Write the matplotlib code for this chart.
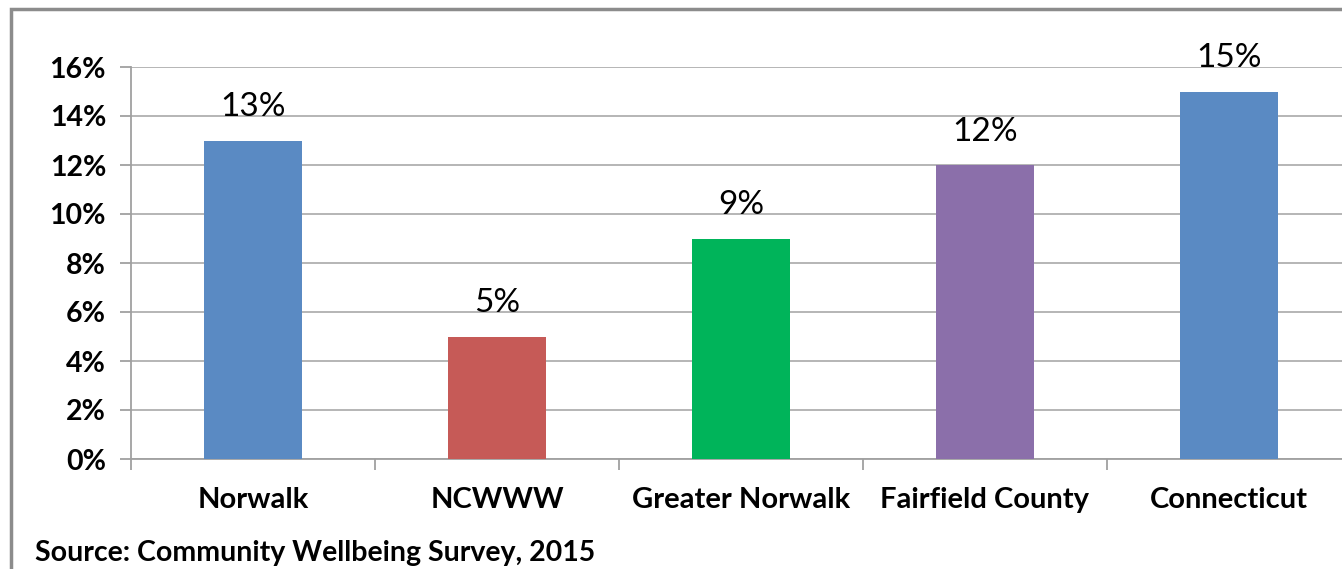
import matplotlib.pyplot as plt
from matplotlib.patches import Rectangle

# data
categories = ["Norwalk", "NCWWW", "Greater Norwalk", "Fairfield County", "Connecticut"]
values = [13, 5, 9, 12, 15]
bar_colors = ["#5A8AC3", "#C65A57", "#00B45A", "#8B6FAA", "#5A8AC3"]
yticks = [0, 2, 4, 6, 8, 10, 12, 14, 16]

plt.rcParams['font.family'] = ['Lato', 'DejaVu Sans']

W, H = 1342, 569
fig = plt.figure(figsize=(W / 100, H / 100), dpi=100)

# outer chart border (only top/left visible in the crop)
fig.patches.append(Rectangle((11 / W, -0.1), 1.2, 1 - 9 / H + 0.1, transform=fig.transFigure,
                             fill=False, edgecolor="#8c8c8c", linewidth=2.5))

x0, x1 = 131, 1351
ytop, ybot = 67, 459
ax = fig.add_axes([x0 / W, 1 - ybot / H, (x1 - x0) / W, (ybot - ytop) / H])

xs = list(range(len(categories)))
ax.bar(xs, values, width=0.4, color=bar_colors, zorder=3)

for x, v in zip(xs, values):
    ax.annotate(f"{v}%", (x, v), xytext=(0, 13), textcoords="offset points",
                ha="center", va="bottom", fontsize=24)

ax.set_xlim(-0.5, len(categories) - 0.5)
ax.set_ylim(0, 16)
ax.set_yticks(yticks)
ax.set_yticklabels([f"{t}%" for t in yticks], fontsize=20.5, fontweight="bold")
ax.set_xticks(xs)
ax.set_xticklabels(categories, fontsize=21, fontweight="bold")
ax.set_xticks([x - 0.5 for x in range(len(categories) + 1)], minor=True)

ax.tick_params(axis="x", which="major", length=0, pad=20)
ax.tick_params(axis="x", which="minor", length=8, color="#a0a0a0", width=1.3)
ax.tick_params(axis="y", length=8, color="#a0a0a0", width=1.3, pad=10)

ax.grid(axis="y", color="#b0b0b0", linewidth=1.3, zorder=0)
for s in ["top", "right"]:
    ax.spines[s].set_visible(False)
ax.spines["left"].set_color("#a0a0a0")
ax.spines["bottom"].set_color("#a0a0a0")
ax.spines["left"].set_linewidth(1.3)
ax.spines["bottom"].set_linewidth(1.3)

fig.text(35 / W, 1 - 553 / H, "Source: Community Wellbeing Survey, 2015",
         fontsize=20.5, fontweight="bold", va="center", ha="left")

fig.savefig("out.png", dpi=100)
